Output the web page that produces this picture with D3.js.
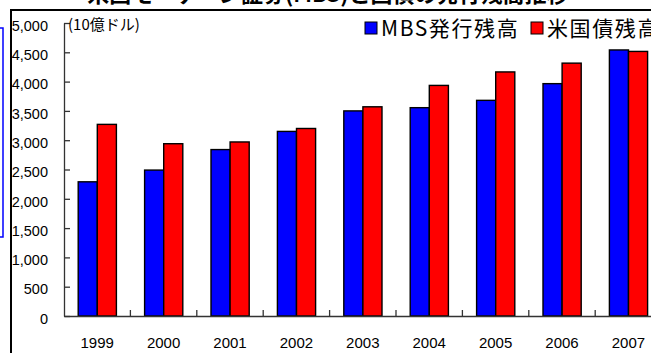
<!DOCTYPE html>
<html>
<head>
<meta charset="utf-8">
<script src="https://cdn.jsdelivr.net/npm/d3@7"></script>
<style>
    body { margin: 0; background: #fff; }
    svg { display: block; }
    text { font-family: "Liberation Sans", Arial, sans-serif; }
    .jp { font-family: "Noto Sans CJK JP", sans-serif; }
</style>
</head>
<body>
<div id="chart"></div>
<script>
// Data (10億ドル)
const years = ['1999', '2000', '2001', '2002', '2003', '2004', '2005', '2006', '2007'];
const mbsValues = [2290, 2490, 2840, 3150, 3500, 3555, 3680, 3965, 4540];
const treasuryValues = [3270, 2940, 2970, 3200, 3570, 3935, 4165, 4315, 4515];
const seriesNames = ['MBS発行残高', '米国債残高'];
const seriesColors = ['#0000ff', '#ff0000'];
const yTicks = [0, 500, 1000, 1500, 2000, 2500, 3000, 3500, 4000, 4500, 5000];

// Build table for grouped bars
const table = years.map((y, i) => ({ year: y, values: [mbsValues[i], treasuryValues[i]] }));

const W = 651, H = 353;
const svg = d3.select('#chart')
    .append('svg')
    .attr('width', W)
    .attr('height', H);

svg.append('rect').attr('width', W).attr('height', H).attr('fill', '#fff');

// Title (mostly cut off at the top, as in the source picture)
svg.append('text')
    .attr('class', 'jp')
    .attr('x', 328)
    .attr('y', 2)
    .attr('text-anchor', 'middle')
    .attr('font-size', 22)
    .attr('font-weight', 'bold')
    .text('米国モーゲージ証券(MBS)と国債の発行残高推移');

// Outer frame
svg.append('path')
    .attr('d', `M11,${H + 2}V10H${W + 2}`)
    .attr('fill', 'none')
    .attr('stroke', '#000')
    .attr('stroke-width', 2);

// Blue box at the left edge
svg.append('path')
    .attr('d', 'M-2,28H3V237H-2')
    .attr('fill', 'none')
    .attr('stroke', '#0000ff')
    .attr('stroke-width', 1.5);

// Scales
const xScale = d3.scaleBand()
    .domain(years)
    .range([64, 661.6])
    .padding(0);
const x1 = d3.scaleBand()
    .domain([0, 1])
    .range([14.2, 52.4])
    .padding(0);
const yScale = d3.scaleLinear()
    .domain([0, 5000])
    .range([316, 23]);

// Bars
const groups = svg.selectAll('.grp')
    .data(table)
    .enter().append('g')
    .attr('transform', d => `translate(${xScale(d.year)},0)`);
groups.selectAll('rect')
    .data(d => d.values.map((v, i) => ({ i: i, v: v })))
    .enter().append('rect')
    .attr('x', d => x1(d.i))
    .attr('y', d => yScale(d.v))
    .attr('width', x1.bandwidth())
    .attr('height', d => yScale(0) - yScale(d.v))
    .attr('fill', d => seriesColors[d.i])
    .attr('stroke', '#000')
    .attr('stroke-width', 1.4);

// Y axis (ticks point inward)
const yAxis = svg.append('g')
    .attr('transform', 'translate(64,0)')
    .call(d3.axisLeft(yScale).tickValues(yTicks).tickSizeInner(-6).tickSizeOuter(0).tickPadding(16)
        .tickFormat(d3.format(',')));
yAxis.select('.domain').attr('stroke', '#333').attr('stroke-width', 1.3);
yAxis.selectAll('.tick line').attr('stroke', '#333').attr('stroke-width', 1.3);
yAxis.selectAll('.tick text')
    .attr('font-size', 14.5)
    .attr('font-family', '"Liberation Sans", Arial, sans-serif')
    .attr('fill', '#000')
    .attr('dy', '0.5em');

// X axis: baseline, boundary ticks, year labels
const xAxis = svg.append('g')
    .attr('transform', `translate(0,${yScale(0)})`)
    .call(d3.axisBottom(xScale).tickSize(0).tickPadding(21));
xAxis.select('.domain').attr('stroke', '#333').attr('stroke-width', 1.3);
xAxis.selectAll('.tick text')
    .attr('font-size', 15)
    .attr('font-family', '"Liberation Sans", Arial, sans-serif')
    .attr('fill', '#000');
svg.selectAll('.xtick')
    .data(years.slice(1))
    .enter().append('line')
    .attr('x1', d => xScale(d))
    .attr('x2', d => xScale(d))
    .attr('y1', yScale(0))
    .attr('y2', yScale(0) - 6)
    .attr('stroke', '#333')
    .attr('stroke-width', 1.3);

// Unit label
svg.append('text')
    .attr('class', 'jp')
    .attr('x', 68)
    .attr('y', 30)
    .attr('font-size', 15)
    .text('(10億ドル)');

// Legend
const legendX = [365, 531];
seriesNames.forEach((name, i) => {
    svg.append('rect')
        .attr('x', legendX[i])
        .attr('y', 22)
        .attr('width', 12)
        .attr('height', 12)
        .attr('fill', seriesColors[i])
        .attr('stroke', '#000')
        .attr('stroke-width', 1);
    svg.append('text')
        .attr('class', 'jp')
        .attr('x', legendX[i] + 16)
        .attr('y', 36)
        .attr('font-size', 21)
        .attr('letter-spacing', 1.6)
        .text(name);
});
</script>
</body>
</html>
